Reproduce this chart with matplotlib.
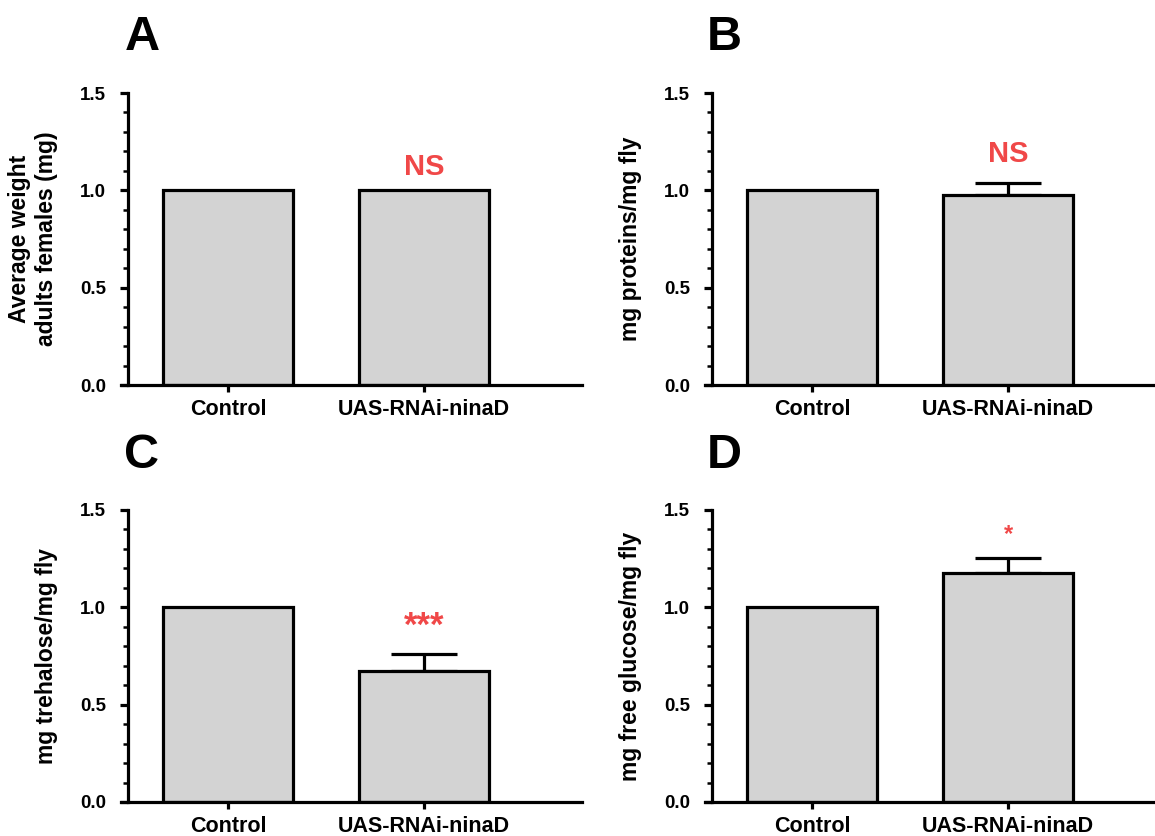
"""
Four-panel bar chart: body weight, proteins, trehalose and free glucose
for Control vs UAS-RNAi-ninaD flies.
"""
import matplotlib
matplotlib.use("Agg")
import matplotlib.pyplot as plt
from matplotlib.ticker import MultipleLocator

plt.rcParams['font.family'] = ['Liberation Sans', 'DejaVu Sans']

# ---- data ----
groups = ["Control", "UAS-RNAi-ninaD"]

weight_means = [1.0, 1.004]
weight_err = [0.0, 0.0]

protein_means = [1.0, 0.974]
protein_err = [0.0, 0.062]

trehalose_means = [1.0, 0.675]
trehalose_err = [0.0, 0.083]

glucose_means = [1.0, 1.175]
glucose_err = [0.0, 0.079]

panel_letters = ["A", "B", "C", "D"]
y_labels = ["Average weight\nadults females (mg)", "mg proteins/mg fly",
            "mg trehalose/mg fly", "mg free glucose/mg fly"]
signif_labels = ["NS", "NS", "***", "*"]

# ---- styling ----
FIG_W, FIG_H = 1155, 836
BAR_COLOR = "#d3d3d3"
SIG_COLOR = "#f04848"
LW = 2.3

# axes boxes in pixels: left, top, width, height
panel_boxes = [(128, 93, 454, 292), (712, 93, 454, 292),
               (128, 510, 454, 292), (712, 510, 454, 292)]
# letter positions in pixels: center x, baseline y
letter_pos = [(142, 50), (724, 50), (142, 468), (724, 468)]
# significance text: font size, weight, offset above bar top (points)
sig_styles = [(21, "bold", 10.5), (21, "bold", 15), (25, "bold", 13.5), (17, "bold", 12.5)]


def px_box(left, top, width, height):
    """ pixel box -> figure fraction box """
    return [left / FIG_W, 1 - (top + height) / FIG_H, width / FIG_W, height / FIG_H]


def draw_panel(ax, means, errs, ylabel, sig, sig_style):
    """ draws one bar panel """
    xs = list(range(len(groups)))
    ax.bar(xs, means, width=0.668, color=BAR_COLOR, edgecolor="black",
           linewidth=LW, zorder=2)
    for x, m, e in zip(xs, means, errs):
        if e > 0:
            ax.errorbar(x, m, yerr=[[0], [e]], fmt="none", ecolor="black",
                        elinewidth=LW, capsize=24, capthick=LW, zorder=1)

    x_left, x_right = -0.51, 1.806
    ax.set_xlim(x_left, x_right)
    ax.set_ylim(0, 1.5)

    for side in ("top", "right"):
        ax.spines[side].set_visible(False)
    for side in ("left", "bottom"):
        ax.spines[side].set_linewidth(LW)
    ax.spines["bottom"].set_bounds(x_left - 0.036, x_right)
    ax.spines["left"].set_bounds(0, 1.5)

    ax.set_xticks(xs)
    ax.set_xticklabels(groups, fontsize=15.5, fontweight="bold")
    ax.yaxis.set_major_locator(MultipleLocator(0.5))
    ax.yaxis.set_minor_locator(MultipleLocator(0.1))
    ax.yaxis.set_major_formatter(plt.FuncFormatter(lambda v, p: f"{v:.1f}"))
    for lab in ax.get_yticklabels():
        lab.set_fontweight("bold")
        lab.set_fontsize(13.5)
    ax.tick_params(axis="y", which="major", length=6, width=LW, pad=10)
    ax.tick_params(axis="y", which="minor", length=3.5, width=1.8)
    ax.tick_params(axis="x", which="major", length=5, width=LW, pad=5)

    ax.set_ylabel(ylabel, fontsize=16.5, fontweight="bold", linespacing=1.2)
    ax.yaxis.set_label_coords(-0.155, 0.5)

    size, weight, offset = sig_style
    top = means[1] + errs[1]
    ax.annotate(sig, xy=(xs[1], top), xytext=(0, offset), textcoords="offset points",
                ha="center", va="baseline", fontsize=size, fontweight=weight,
                color=SIG_COLOR)


fig = plt.figure(figsize=(FIG_W / 100, FIG_H / 100), dpi=100)

all_means = [weight_means, protein_means, trehalose_means, glucose_means]
all_errs = [weight_err, protein_err, trehalose_err, glucose_err]

for i in range(4):
    ax = fig.add_axes(px_box(*panel_boxes[i]))
    draw_panel(ax, all_means[i], all_errs[i], y_labels[i], signif_labels[i], sig_styles[i])
    lx, ly = letter_pos[i]
    fig.text(lx / FIG_W, 1 - ly / FIG_H, panel_letters[i], fontsize=35,
             fontweight="bold", ha="center", va="baseline")

fig.savefig("out.png", dpi=100)
